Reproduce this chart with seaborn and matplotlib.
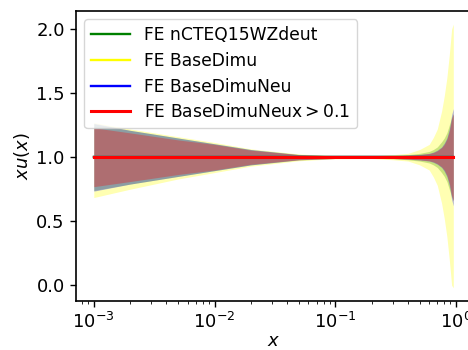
import numpy as np
import pandas as pd
import matplotlib
matplotlib.use("Agg")
import matplotlib.pyplot as plt
import seaborn as sns

# x grid
x_vals = [0.001, 0.002, 0.005, 0.01, 0.02, 0.05, 0.1, 0.2, 0.3, 0.4, 0.5,
          0.6, 0.65, 0.7, 0.76, 0.8, 0.84, 0.88, 0.9, 0.92, 0.95]
central = [1.0] * len(x_vals)

# upper / lower band edges per set
green_up = [1.26, 1.21, 1.15, 1.105, 1.06, 1.022, 1.01, 1.008, 1.012, 1.02, 1.03,
            1.045, 1.06, 1.08, 1.12, 1.15, 1.19, 1.25, 1.28, 1.31, 1.34]
green_lo = [0.74, 0.79, 0.85, 0.895, 0.94, 0.978, 0.99, 0.992, 0.988, 0.98, 0.97,
            0.955, 0.94, 0.92, 0.88, 0.85, 0.81, 0.75, 0.72, 0.69, 0.66]
yellow_up = [1.27, 1.22, 1.16, 1.115, 1.065, 1.025, 1.012, 1.01, 1.02, 1.03, 1.06,
             1.10, 1.155, 1.22, 1.36, 1.48, 1.62, 1.80, 1.90, 2.0, 2.04]
yellow_lo = [0.685, 0.75, 0.83, 0.88, 0.93, 0.972, 0.988, 0.99, 0.98, 0.97, 0.94,
             0.90, 0.845, 0.78, 0.64, 0.52, 0.38, 0.20, 0.10, 0.0, -0.02]
blue_up = [1.265, 1.21, 1.15, 1.105, 1.06, 1.02, 1.01, 1.006, 1.01, 1.015, 1.022,
           1.03, 1.04, 1.055, 1.08, 1.11, 1.15, 1.22, 1.27, 1.33, 1.38]
blue_lo = [0.735, 0.79, 0.85, 0.895, 0.94, 0.98, 0.99, 0.994, 0.99, 0.985, 0.978,
           0.97, 0.96, 0.945, 0.92, 0.89, 0.85, 0.78, 0.73, 0.67, 0.62]
red_up = [1.23, 1.19, 1.135, 1.10, 1.055, 1.02, 1.01, 1.006, 1.01, 1.015, 1.02,
          1.028, 1.036, 1.05, 1.075, 1.10, 1.14, 1.20, 1.25, 1.30, 1.34]
red_lo = [0.77, 0.81, 0.865, 0.90, 0.945, 0.98, 0.99, 0.994, 0.99, 0.985, 0.98,
          0.972, 0.964, 0.95, 0.925, 0.90, 0.86, 0.80, 0.75, 0.70, 0.66]

labels = ["FE nCTEQ15WZdeut", "FE BaseDimu", "FE BaseDimuNeu", r"FE BaseDimuNeux$>0.1$"]
colors = ["green", "yellow", "blue", "red"]
ups = [green_up, yellow_up, blue_up, red_up]
los = [green_lo, yellow_lo, blue_lo, red_lo]

fig = plt.figure(figsize=(4.68, 3.5), dpi=100)
ax = fig.add_axes([0.162, 0.14, 0.845, 0.829])

for lab, col, up, lo in zip(labels, colors, ups, los):
    df = pd.DataFrame({"x": x_vals, "y": central})
    ax.fill_between(x_vals, lo, up, color=col, alpha=0.3, linewidth=0)
    sns.lineplot(data=df, x="x", y="y", ax=ax, color=col, label=lab,
                 linewidth=2.2 if col == "red" else 1.7)

ax.set_xscale("log")
ax.set_xlabel("$x$", fontsize=13, labelpad=0)
ax.set_ylabel("$xu(x)$", fontsize=13, labelpad=3)
ax.set_yticks([0.0, 0.5, 1.0, 1.5, 2.0])
ax.tick_params(labelsize=13, length=4.5, width=1.0)
ax.tick_params(which="minor", length=2.5)
for s in ax.spines.values():
    s.set_linewidth(1.2)
ax.legend(loc="upper left", fontsize=12.3, labelspacing=0.45, handlelength=2.3)

fig.savefig("out.png", dpi=100)
